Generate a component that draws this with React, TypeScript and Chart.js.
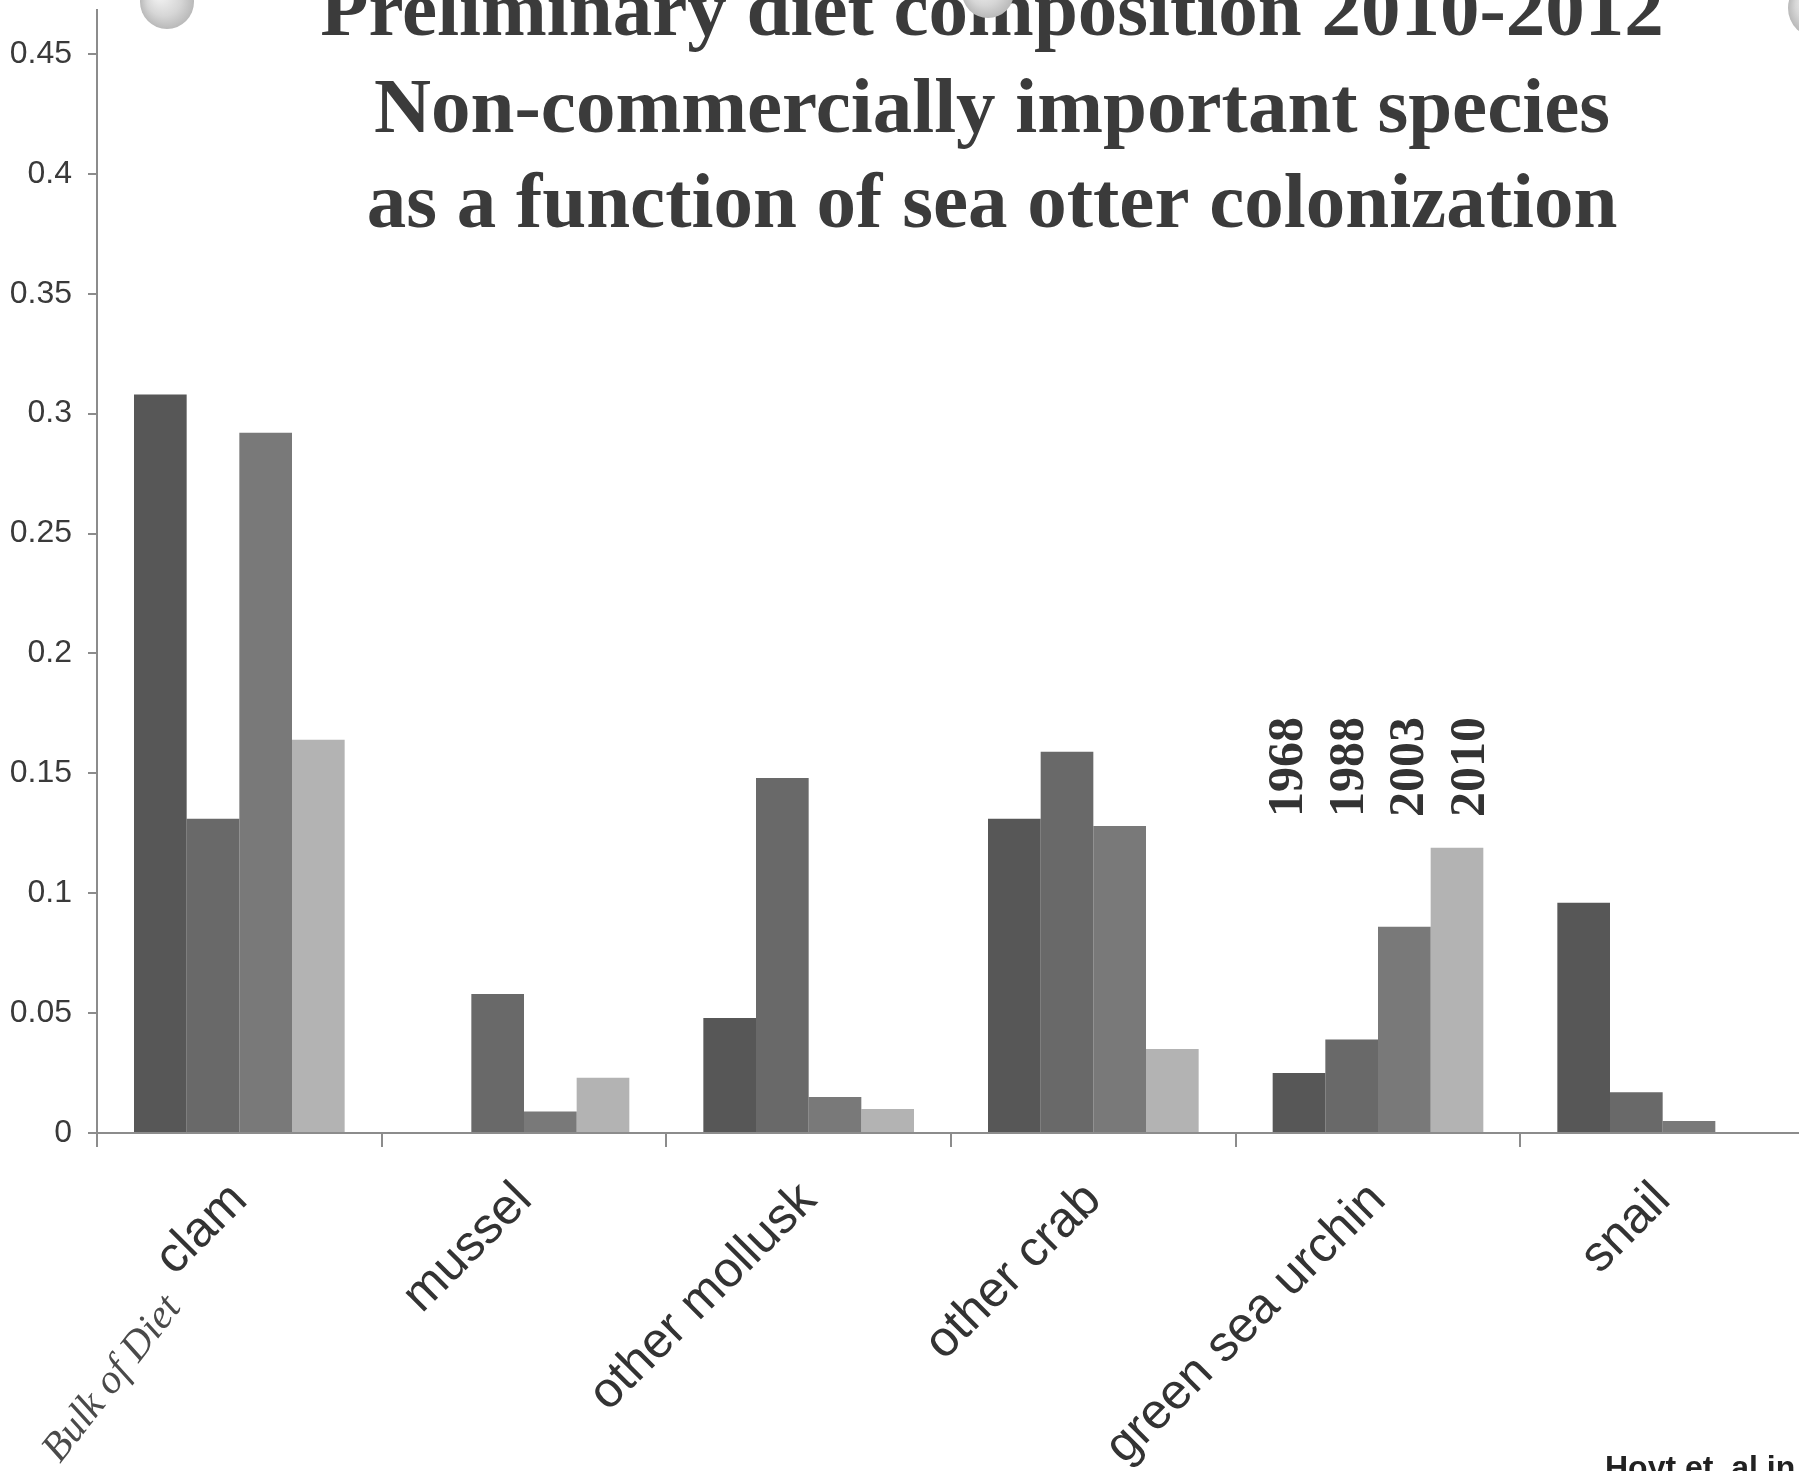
import React, { useEffect, useRef } from "react";
import { Chart, registerables } from "chart.js";

Chart.register(...registerables);

// ---- data ----
const categories = ["clam", "mussel", "other mollusk", "other crab", "green sea urchin", "snail"];
const seriesLabels = ["1968", "1988", "2003", "2010"];
const values1968 = [0.308, 0, 0.048, 0.131, 0.025, 0.096];
const values1988 = [0.131, 0.058, 0.148, 0.159, 0.039, 0.017];
const values2003 = [0.292, 0.009, 0.015, 0.128, 0.086, 0.005];
const values2010 = [0.164, 0.023, 0.01, 0.035, 0.119, 0];
const yTickValues = [0, 0.05, 0.1, 0.15, 0.2, 0.25, 0.3, 0.35, 0.4, 0.45];
const titleLines = [
  "Preliminary diet composition 2010-2012",
  "Non-commercially important species",
  "as a function of sea otter colonization",
];
const annotationText = "Bulk of Diet";
const sourceText = "Hoyt et. al in";

// ---- layout / style ----
const VIEW_W = 1799;
const VIEW_H = 1471;
const CANVAS_W = 1830;
const CANVAS_H = 1600;
const AREA_LEFT = 97;
const AREA_TOP = 10;
const AREA_RIGHT = 1805;
const AREA_BOTTOM = 1133;
const barColors = ["#575757", "#696969", "#797979", "#b3b3b3"];
const axisColor = "#8c8c8c";

const overlayPlugin = {
  id: "overlay",
  afterDraw(chart: any) {
    const ctx = chart.ctx;
    const xs = chart.scales.x;

    // title
    ctx.save();
    ctx.fillStyle = "#3b3b3b";
    ctx.font = 'bold 79px "Liberation Serif", "Times New Roman", serif';
    ctx.textAlign = "center";
    ctx.textBaseline = "alphabetic";
    const titleBaselines = [35, 132, 227];
    titleLines.forEach((line, i) => ctx.fillText(line, 992, titleBaselines[i]));
    ctx.restore();

    // series labels (vertical) above the green sea urchin group
    const groupCenter = xs.getPixelForValue(4);
    ctx.save();
    ctx.fillStyle = "#333";
    ctx.font = 'bold 50px "Liberation Serif", "Times New Roman", serif';
    ctx.textAlign = "left";
    ctx.textBaseline = "middle";
    seriesLabels.forEach((lab, i) => {
      const cx = groupCenter + (i - 1.5) * 60.5;
      ctx.save();
      ctx.translate(cx, 817);
      ctx.rotate(-Math.PI / 2);
      ctx.fillText(lab, 0, 2);
      ctx.restore();
    });
    ctx.restore();

    // handwritten-like annotation
    ctx.save();
    ctx.fillStyle = "#4a4a4a";
    ctx.font = 'italic 41px "Liberation Serif", serif';
    ctx.translate(60, 1464);
    ctx.rotate(-52 * Math.PI / 180);
    ctx.textAlign = "left";
    ctx.textBaseline = "alphabetic";
    ctx.fillText(annotationText, 0, 0);
    ctx.restore();

    // source note
    ctx.save();
    ctx.fillStyle = "#222";
    ctx.font = 'bold 32px "Liberation Sans", Arial, sans-serif';
    ctx.textAlign = "left";
    ctx.textBaseline = "alphabetic";
    ctx.fillText(sourceText, 1605, 1478);
    ctx.restore();

    // decorative spheres (slide ornaments)
    const spheres = [
      [167, 2, 27],
      [988, -8, 26],
      [1818, 8, 30],
    ];
    spheres.forEach(([sx, sy, r]) => {
      const g = ctx.createRadialGradient(sx - r * 0.3, sy - r * 0.3, r * 0.1, sx, sy, r);
      g.addColorStop(0, "#f2f2f2");
      g.addColorStop(0.6, "#d6d6d6");
      g.addColorStop(1, "#b9b9b9");
      ctx.save();
      ctx.beginPath();
      ctx.arc(sx, sy, r, 0, Math.PI * 2);
      ctx.fillStyle = g;
      ctx.fill();
      ctx.restore();
    });
  },
};

export default function App() {
  const ref = useRef<HTMLCanvasElement | null>(null);

  useEffect(() => {
    if (!ref.current) return;
    const seriesValues = [values1968, values1988, values2003, values2010];
    const chart = new Chart(ref.current, {
      type: "bar",
      data: {
        labels: categories,
        datasets: seriesLabels.map((lab, i) => ({
          label: lab,
          data: seriesValues[i],
          backgroundColor: barColors[i],
          borderWidth: 0,
          categoryPercentage: 0.74,
          barPercentage: 1.0,
        })),
      },
      options: {
        animation: false,
        responsive: false,
        devicePixelRatio: 1,
        layout: {
          padding: { top: AREA_TOP, left: 0, right: CANVAS_W - AREA_RIGHT, bottom: 0 },
        },
        plugins: {
          legend: { display: false },
          tooltip: { enabled: false },
          title: { display: false },
        },
        scales: {
          x: {
            offset: true,
            grid: {
              display: true,
              offset: true,
              drawOnChartArea: false,
              drawTicks: true,
              tickLength: 14,
              color: axisColor,
              lineWidth: 2,
            },
            border: { display: true, color: axisColor, width: 2 },
            ticks: {
              autoSkip: false,
              minRotation: 45,
              maxRotation: 45,
              padding: 24,
              color: "#333",
              font: { family: '"Liberation Sans", Arial, sans-serif', size: 50 },
            },
            afterFit: (s: any) => {
              s.height = CANVAS_H - AREA_BOTTOM;
              s.paddingLeft = 0;
              s.paddingRight = 0;
            },
          },
          y: {
            min: 0,
            max: (AREA_BOTTOM - AREA_TOP) / 119.9 * 0.05,
            afterBuildTicks: (s: any) => {
              s.ticks = yTickValues.map((v) => ({ value: v }));
            },
            grid: {
              display: true,
              drawOnChartArea: false,
              drawTicks: true,
              tickLength: 9,
              color: axisColor,
              lineWidth: 2,
            },
            border: { display: true, color: axisColor, width: 2 },
            ticks: {
              padding: 16,
              color: "#3a3a3a",
              font: { family: '"Liberation Sans", Arial, sans-serif', size: 32 },
              callback: (v: any) => String(v),
            },
            afterFit: (s: any) => {
              s.width = AREA_LEFT;
              s.paddingTop = 0;
              s.paddingBottom = 0;
            },
          },
        },
      },
      plugins: [overlayPlugin],
    });
    return () => chart.destroy();
  }, []);

  return (
    <div
      style={{
        position: "fixed",
        left: 0,
        top: 0,
        width: VIEW_W,
        height: VIEW_H,
        overflow: "hidden",
        background: "#ffffff",
      }}
    >
      <canvas
        ref={ref}
        width={CANVAS_W}
        height={CANVAS_H}
        style={{ display: "block", width: CANVAS_W, height: CANVAS_H }}
      />
    </div>
  );
}
